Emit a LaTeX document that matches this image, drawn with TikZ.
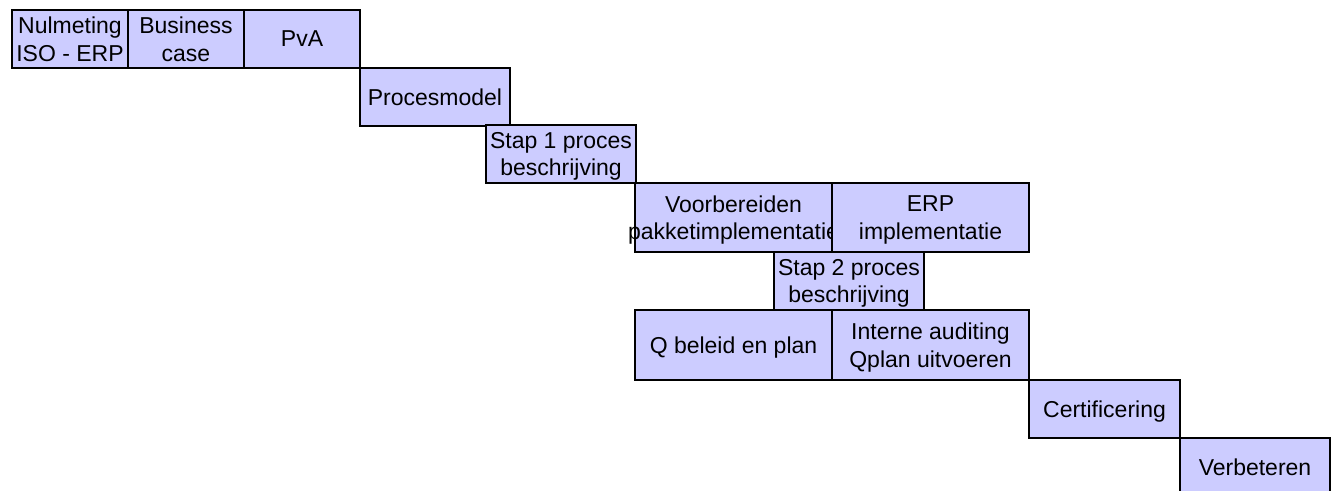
\documentclass[tikz,border=0pt]{standalone}
\usepackage{fontspec}
\setmainfont{Liberation Sans}
\usepackage{tikz}
\usepackage{xcolor}
\usetikzlibrary{positioning}
\definecolor{phasefill}{RGB}{204, 204, 255}
\tikzset{
    phasebox/.style={rectangle, draw=black, fill=phasefill, line width=1.5pt, inner sep=0pt, outer sep=0pt, align=center, anchor=north west, font=\fontsize{23}{27.5}\selectfont, text depth=0pt, minimum height=58pt},
    smallbox/.style={phasebox, minimum width=116pt},
    midbox/.style={phasebox, minimum width=150pt},
    widebox/.style={phasebox, minimum width=197pt, minimum height=69pt}
}

\begin{document}
\begin{tikzpicture}[x=1pt, y=-1pt]
    \useasboundingbox (0,0) rectangle (1333,490);
    % top row
    \node[smallbox] (nul) at (12,10) {Nulmeting\\ISO - ERP};
    \node[smallbox, right=0pt of nul] (bcase) {Business\\case};
    \node[smallbox, right=0pt of bcase] (pva) {PvA};
    % stairs down
    \node[midbox, below right=0pt and 0pt of pva] (procmod) {Procesmodel};
    \node[midbox] (stap1) at (486,125) {Stap 1 proces\\beschrijving};
    \node[widebox, minimum height=69pt] (voorb) at (635,183) {Voorbereiden\\\makebox[0pt]{pakketimplementatie}};
    \node[widebox, right=0pt of voorb] (erp) {ERP\\implementatie};
    \node[midbox] (stap2) at (774,252) {Stap 2 proces\\beschrijving};
    \node[widebox, minimum height=70pt] (qbeleid) at (635,310) {Q beleid en plan};
    \node[widebox, minimum height=70pt, right=0pt of qbeleid] (audit) {Interne auditing\\Qplan uitvoeren};
    \node[midbox, minimum width=151pt, below right=0pt and 0pt of audit] (cert) {Certificering};
    \node[midbox, below right=0pt and 0pt of cert] (verb) {Verbeteren};
\end{tikzpicture}
\end{document}
